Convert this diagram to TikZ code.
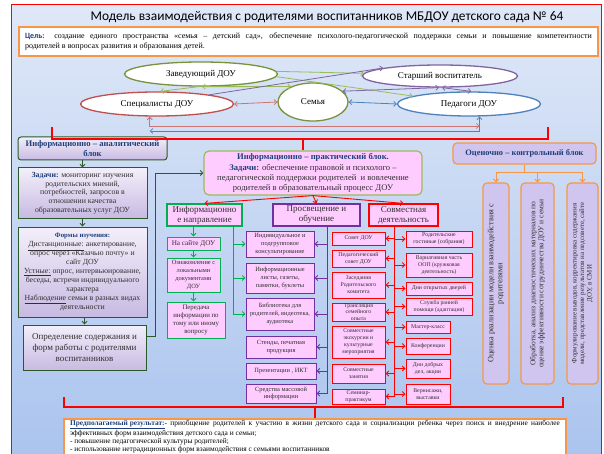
\documentclass[tikz,border=0pt]{standalone}
\usepackage{fontspec}
\setmainfont{Liberation Serif}
\newfontfamily\calib{Carlito}
\usetikzlibrary{positioning}
\usetikzlibrary{shapes.geometric}
\usetikzlibrary{arrows.meta}

\definecolor{zavgreen}{HTML}{77933C}
\definecolor{lngreen}{HTML}{9BBB59}
\definecolor{starpurple}{HTML}{8064A2}
\definecolor{specred}{HTML}{C0504D}
\definecolor{pedblue}{HTML}{4F81BD}
\definecolor{orbord}{HTML}{F79646}
\definecolor{pinkfill}{HTML}{FFCCFF}
\definecolor{lavtop}{HTML}{F3EFFA}
\definecolor{lavbot}{HTML}{C8BAE2}
\definecolor{lavfill}{HTML}{CFC5EE}
\definecolor{dkgreen}{HTML}{2A5A2A}
\definecolor{brgreen}{HTML}{00B050}
\definecolor{vpurple}{HTML}{7030A0}
\definecolor{hdblue}{HTML}{1F3F7A}
\definecolor{txtgray}{HTML}{303030}
\definecolor{bgtop}{HTML}{DFE8F7}
\definecolor{bgbot}{HTML}{A9C3EE}

\tikzset{
  ell/.style={ellipse, fill=white, line width=1.3pt, inner sep=0pt, font=\fontsize{9}{10}\selectfont},
  goalbox/.style={draw=orbord, line width=1.2pt, fill=white, align=justify, inner xsep=6pt, font=\fontsize{8}{10.5}\selectfont},
  resbox/.style={draw=orbord, line width=1.5pt, fill=white, align=justify, inner xsep=6pt, inner ysep=1.5pt, font=\fontsize{7.4}{8.2}\selectfont},
  lavbox/.style={draw=dkgreen, line width=1pt, top color=lavtop, bottom color=lavbot, align=center, inner sep=1pt, text=txtgray, font=\fontsize{7.8}{8.7}\selectfont},
  headbox/.style={fill=pinkfill, line width=1.2pt, align=center, inner sep=0.5pt, text=txtgray, font=\fontsize{9}{10}\selectfont},
  smbox/.style={fill=pinkfill, line width=1pt, align=center, inner sep=0.5pt, text=txtgray, font=\fontsize{6.4}{7.8}\selectfont},
  grbox/.style={smbox, draw=brgreen, font=\fontsize{6.8}{8}\selectfont},
  pubox/.style={smbox, draw=vpurple},
  rdbox/.style={smbox, draw=red, font=\fontsize{5.8}{7}\selectfont},
  ocbox/.style={draw=orbord, line width=1.2pt, fill=lavfill, rounded corners=4pt},
  vtext/.style={rotate=90, align=center, inner sep=0pt, text=txtgray},
  zavln/.style={draw=lngreen, line width=0.8pt},
  starln/.style={draw=starpurple, line width=0.8pt},
  specln/.style={draw=specred!80, line width=0.8pt},
  pedln/.style={draw=pedblue, line width=0.8pt},
  dgline/.style={draw=dkgreen, line width=0.9pt},
  grline/.style={draw=brgreen, line width=0.9pt},
  puline/.style={draw=vpurple, line width=0.9pt},
  rdline/.style={draw=red, line width=0.9pt},
  orline/.style={draw=orbord, line width=1pt},
  brack/.style={draw=red, line width=1.3pt},
}

\begin{document}
\begin{tikzpicture}[x=1pt, y=-1pt, >={Straight Barb[length=2.6pt,width=5pt]}]
\useasboundingbox (0,0) rectangle (604,454);
\clip (0,0) rectangle (604,454);

% frame and background
\shade[top color=bgtop, bottom color=bgbot] (11,5) rectangle (601,470);
\draw[red, line width=1pt] (11,5) rectangle (601,470);

\node[font=\calib\fontsize{13.4}{15}\selectfont] (title) at (327,17) {Модель взаимодействия с родителями воспитанников МБДОУ детского сада № 64};
\node[goalbox, minimum width=579pt, minimum height=29pt, text width=567pt] (goal) at (308.5,41.5)
  {{\calib\bfseries\color{hdblue}Цель:} создание единого пространства «семья – детский сад», обеспечение психолого-педагогической поддержки семьи и повышение компетентности\linebreak родителей в вопросах развития и образования детей.};

% participants
\node[ell, draw=zavgreen, minimum width=153pt, minimum height=24pt] (zav) at (201,74) {Заведующий ДОУ};
\node[ell, draw=starpurple, minimum width=155pt, minimum height=22pt] (star) at (440,76) {Старший воспитатель};
\node[ell, draw=specred, minimum width=153pt, minimum height=24pt] (spec) at (157,104) {Специалисты ДОУ};
\node[ell, draw=zavgreen, minimum width=70pt, minimum height=38pt] (sem) at (313,102) {Семья};
\node[ell, draw=pedblue, minimum width=143pt, minimum height=24pt] (ped) at (469,104) {Педагоги ДОУ};

\draw[zavln, ->] (zav.-100) -- (spec.75);
\draw[zavln, <->] (zav.-85) -- (sem.145);
\draw[zavln, ->] (zav.2) -- (star.178);
\draw[zavln, ->] (zav.-2) -- (ped.172);
\draw[starln, ->] (spec.10) -- (star.172);
\draw[starln, <->] (star.-95) -- (sem.20);
\draw[starln, <->] (star.-80) -- (ped.80);
\draw[specln, <->] (spec.east) -- (sem.west);
\draw[pedln, <->] (sem.east) -- (ped.west);
\coordinate (rowR) at (0,126);
\coordinate (rowB) at (0,131);
\draw[specln, <->] (spec.-120) -- (spec.-120 |- rowR) -- (ped.-50 |- rowR);
\draw[pedln, <->] (ped.-50) -- (ped.-50 |- rowB) -- (spec.-120 |- rowB);

% analytic block
\node[lavbox, rounded corners=3pt, minimum width=149pt, minimum height=23pt, text=hdblue, font=\bfseries\fontsize{8.6}{9.5}\selectfont] (anbox) at (92.5,148.5) {Информационно – аналитический\\ блок};
\node[lavbox, minimum width=129pt, minimum height=50pt] (task) at (82.5,193)
  {{\color{hdblue}\bfseries Задачи:} мониторинг изучения\\ родительских мнений,\\ потребностей, запросов в\\ отношении качества\\ образовательных услуг ДОУ};
\node[lavbox, minimum width=129pt, minimum height=90pt, font=\fontsize{7.8}{8.9}\selectfont] (forms) at (82.5,272)
  {{\color{hdblue}\bfseries\fontsize{6.8}{8}\selectfont Формы изучения:}\\
   \underline{Дистанционные:} анкетирование,\\ опрос через «Казачью почту» и\\ сайт ДОУ\\
   \underline{Устные:} опрос, интервьюирование,\\ беседы, встречи индивидуального\\ характера\\
   \underline{Наблюдение} семьи в разных видах\\ деятельности};
\node[lavbox, minimum width=123pt, minimum height=45pt, font=\fontsize{9}{10.8}\selectfont] (def) at (84.5,347.5)
  {Определение содержания и\\ форм работы с родителями\\ воспитанников};

\draw[dgline, ->] (task.north |- anbox.south) -- (task.north);
\draw[dgline, ->] (task.south) -- (forms.north);
\draw[dgline, ->] (def.north |- forms.south) -- (def.north);
\coordinate (dgx) at (155,0);

% practical block
\node[headbox, draw=lngreen, rounded corners=5pt, minimum width=218pt, minimum height=44pt, font=\fontsize{8.6}{10.3}\selectfont] (prakt) at (313,173)
  {{\color{hdblue}\bfseries Информационно – практический блок.}\\
   {\color{hdblue}\bfseries Задачи:} обеспечение правовой и психолого –\\ педагогической поддержки родителей \ и вовлечение\\ родителей в образовательный процесс ДОУ};
\draw[dgline, ->] (def.10) -| (dgx |- prakt.west) -- (prakt.west);

\node[headbox, draw=brgreen, minimum width=75pt, minimum height=22pt] (inf) at (204.5,215) {Информационно\\ е направление};
\node[headbox, draw=vpurple, minimum width=87pt, minimum height=22pt] (pros) at (316.5,215) {Просвещение и\\ обучение};
\node[headbox, draw=red, minimum width=69pt, minimum height=22pt] (sovm) at (403.5,215) {Совместная\\ деятельность};
\draw[rdline, ->] (prakt.south) -- (inf.north);
\draw[rdline, ->] (prakt.south) -- (pros.north);
\draw[rdline, ->] (prakt.south) -- (sovm.north);

% information column
\node[grbox, minimum width=53pt, minimum height=13pt, font=\fontsize{7.2}{8}\selectfont] (site) at (193.5,243.5) {На сайте ДОУ};
\node[grbox, minimum width=53pt, minimum height=34pt, font=\fontsize{6.4}{7.9}\selectfont] (loc) at (193.5,275) {Ознакомление с\\ локальными\\ документами\\ ДОУ};
\node[grbox, minimum width=58pt, minimum height=36pt] (pered) at (196,320) {Передача\\ информации по\\ тому или иному\\ вопросу};
\draw[grline, ->] (inf.south -| site.north) -- (site.north);
\draw[grline, ->] (site.south) -- (site.south |- loc.north);
\draw[grline, ->] (loc.south) -- (loc.south |- pered.north);

% education column
\node[pubox, minimum width=68pt, minimum height=26pt] (p1) at (280,244) {Индивидуальное и\\ подгрупповое\\ консультирование};
\node[pubox, minimum width=68pt, minimum height=30pt] (p2) at (280,278) {Информационные\\ листы, газеты,\\ памятки, буклеты};
\node[pubox, minimum width=68pt, minimum height=32pt] (p3) at (280,314) {Библиотека для\\ родителей, видеотека,\\ аудиотека};
\node[pubox, minimum width=70pt, minimum height=22pt] (p4) at (281,347) {Стенды, печатная\\ продукция};
\node[pubox, minimum width=70pt, minimum height=16pt] (p5) at (281,371) {Презентации , ИКТ};
\node[pubox, minimum width=70pt, minimum height=19pt] (p6) at (281,393.5) {Средства массовой\\ информации};

\coordinate (gx) at (233,0);
\draw[grline] (inf.south -| gx) -- (p3.west -| gx);
\foreach \n in {p1,p2,p3}
  \draw[grline, ->] (\n.west -| gx) -- (\n.west);

\coordinate (px) at (327,0);
\draw[puline] (pros.south -| px) -- (p6.east -| px);
\foreach \n in {p1,p2,p3,p4,p5,p6}
  \draw[puline, ->] (\n.east -| px) -- (\n.east);

% joint activity column
\node[rdbox, minimum width=53pt, minimum height=13pt] (r1) at (358.5,238.5) {Совет ДОУ};
\node[rdbox, minimum width=53pt, minimum height=17pt] (r2) at (358.5,258.5) {Педагогический\\ совет ДОУ};
\node[rdbox, minimum width=53pt, minimum height=26pt] (r3) at (358.5,285) {Заседания\\ Родительского\\ комитета};
\node[rdbox, minimum width=53pt, minimum height=18pt, font=\fontsize{5.8}{6.4}\selectfont] (r4) at (358.5,312) {Трансляция\\ семейного\\ опыта};
\node[rdbox, minimum width=53pt, minimum height=32pt] (r5) at (358.5,342) {Совместные\\ экскурсии и\\ культурные\\ мероприятия};
\node[rdbox, minimum width=53pt, minimum height=19pt] (r6) at (358.5,373.5) {Совместные\\ занятия};
\node[rdbox, minimum width=53pt, minimum height=15pt] (r7) at (358.5,396.5) {Семинар-\\ практикум};

\node[rdbox, minimum width=66pt, minimum height=16pt] (s1) at (439,239) {Родительские\\ гостиные (собрания)};
\node[rdbox, minimum width=66pt, minimum height=24pt] (s2) at (439,265) {Вариативная часть\\ ООП (кружковая\\ деятельность)};
\node[rdbox, minimum width=66pt, minimum height=13pt] (s3) at (439,288.5) {Дни открытых дверей};
\node[rdbox, minimum width=66pt, minimum height=17pt] (s4) at (439,306.5) {Служба ранней\\ помощи (адаптация)};
\node[rdbox, minimum width=44pt, minimum height=12pt] (s5) at (428,327) {Мастер-класс};
\node[rdbox, minimum width=44pt, minimum height=16pt] (s6) at (428,346) {Конференции};
\node[rdbox, minimum width=44pt, minimum height=19pt] (s7) at (428,368.5) {Дни добрых\\ дел, акции};
\node[rdbox, minimum width=44pt, minimum height=20pt] (s8) at (428,394) {Вернисажи,\\ выставки};

\coordinate (rx) at (394,0);
\draw[rdline] (sovm.south -| rx) -- (r7.east -| rx);
\foreach \n in {r1,r2,r3,r4,r5,r6,r7}
  \draw[rdline, ->] (\n.east -| rx) -- (\n.east);
\foreach \n in {s1,s2,s3,s4,s5,s6,s7,s8}
  \draw[rdline, ->] (\n.west -| rx) -- (\n.west);

% control block
\node[ocbox, minimum width=143pt, minimum height=21pt, text=hdblue, font=\bfseries\fontsize{8.4}{9.5}\selectfont] (ocblock) at (524.5,153.5) {Оценочно – контрольный блок};
\node[ocbox, minimum width=26pt, minimum height=201pt] (t1) at (496,283.5) {};
\node[ocbox, minimum width=33pt, minimum height=201pt] (t2) at (537.5,283.5) {};
\node[ocbox, minimum width=31pt, minimum height=201pt] (t3) at (582.5,283.5) {};
\node[vtext, font=\fontsize{8.2}{9}\selectfont] at (t1) {Оценка реализации модели взаимодействия с\\ родителями};
\node[vtext, font=\fontsize{7.5}{8}\selectfont] at (t2) {Обработка, анализ диагностических материалов по\\ оценке эффективности сотрудничества ДОУ и семьи};
\node[vtext, font=\fontsize{6.9}{7.5}\selectfont] at (t3) {Формулирование выводов, корректировка содержания\\ модели, представление результатов на педсовете, сайте\\ ДОУ, в СМИ};

\coordinate (ory) at (0,173);
\draw[orline] (ocblock.south) -- (ocblock.south |- ory);
\draw[orline] (t1.north |- ory) -- (t3.north |- ory);
\foreach \n in {t1,t2,t3}
  \draw[orline, ->] (\n.north |- ory) -- (\n.north);

% brackets and result
\coordinate (bl1) at (52,127);
\coordinate (br1) at (548,127);
\coordinate (bm1) at (303,139);
\draw[brack] (bl1) -- (bl1 |- bm1) -- (br1 |- bm1) -- (br1);
\draw[brack] (bm1) -- (bm1 |- prakt.north);

\node[resbox, anchor=north, minimum width=502pt, text width=490pt] (result) at (315,418)
  {{\color{hdblue}\bfseries\underline{Предполагаемый результат:}}- приобщение родителей к участию в жизни детского сада и социализации ребенка через поиск и внедрение наиболее\linebreak эффективных форм взаимодействия детского сада и семьи;\\
   - повышение педагогической культуры родителей;\\
   - использование нетрадиционных форм взаимодействия с семьями воспитанников\\[6pt]};

\coordinate (bl2) at (64,397);
\coordinate (br2) at (563,397);
\coordinate (bm2) at (315,407);
\draw[brack] (bl2) -- (bl2 |- bm2) -- (br2 |- bm2) -- (br2);
\draw[brack] (bm2) -- (bm2 |- result.north);

\end{tikzpicture}
\end{document}
